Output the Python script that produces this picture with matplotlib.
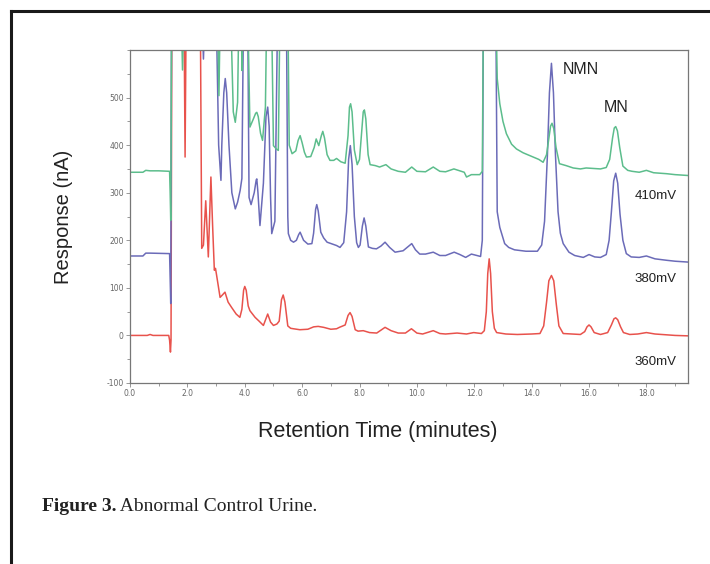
import matplotlib
matplotlib.use("Agg")
import matplotlib.pyplot as plt
from matplotlib.lines import Line2D
from matplotlib.ticker import MultipleLocator, FormatStrFormatter

# ---------------- data ----------------
OFF = 700  # off-scale response (clipped at top of plot)

t_410 = [0, 0.45, 0.55, 0.7, 1.0, 1.38, 1.40, 1.42, 1.45, 1.5, 1.78, 1.83, 1.88, 3.05, 3.1, 3.15,
         3.5, 3.6, 3.67, 3.75, 3.8, 3.88, 3.9, 3.93, 4.1, 4.18, 4.3, 4.38, 4.42, 4.47, 4.55, 4.62,
         4.72, 4.77, 4.93, 5.0, 5.1, 5.17, 5.23, 5.5, 5.55, 5.65, 5.78, 5.86, 5.93, 6.0, 6.08,
         6.15, 6.3, 6.42, 6.49, 6.58, 6.67, 6.72, 6.78, 6.87, 6.97, 7.1, 7.2, 7.35, 7.5, 7.6,
         7.65, 7.69, 7.74, 7.82, 7.92, 8.0, 8.08, 8.13, 8.17, 8.22, 8.3, 8.37, 8.55, 8.7, 8.92,
         9.1, 9.35, 9.6, 9.82, 10.0, 10.3, 10.57, 10.8, 11.0, 11.29, 11.5, 11.65, 11.73, 11.9,
         12.19, 12.28, 12.32, 12.75, 12.8, 12.89, 13.0, 13.12, 13.3, 13.47, 13.7, 14.05, 14.25,
         14.4, 14.52, 14.6, 14.66, 14.71, 14.77, 14.85, 14.97, 15.2, 15.45, 15.7, 15.9, 16.15,
         16.4, 16.6, 16.72, 16.82, 16.88, 16.93, 16.99, 17.07, 17.18, 17.35, 17.5, 17.75, 18.0,
         18.25, 18.7, 19.0, 19.5]
r_410 = [343, 343, 347, 346, 346, 345, 300, 242, OFF, OFF, OFF, 558, OFF, OFF, 504, OFF,
         OFF, 470, 448, 490, OFF, OFF, 557, OFF, OFF, 438, 455, 467, 469, 460, 425, 410,
         480, OFF, OFF, 399, 392, 389, OFF, OFF, 400, 382, 388, 410, 420, 405, 385,
         375, 376, 395, 413, 399, 420, 429, 415, 380, 368, 368, 372, 365, 362, 420,
         480, 487, 470, 390, 359, 370, 430, 470, 474, 455, 380, 359, 357, 354, 359,
         350, 345, 343, 354, 345, 344, 354, 345, 344, 350, 346, 343, 333, 338,
         338, 345, OFF, OFF, 540, 487, 450, 424, 402, 392, 384, 375, 370,
         364, 380, 415, 440, 446, 435, 395, 361, 357, 352, 350, 352, 351,
         350, 353, 370, 415, 436, 439, 430, 395, 356, 347, 345, 343, 347,
         342, 340, 338, 336]

t_380 = [0, 0.45, 0.55, 0.7, 1.38, 1.40, 1.42, 1.45, 2.5, 2.56, 2.62, 3.0, 3.09, 3.17, 3.2,
         3.27, 3.32, 3.37, 3.45, 3.55, 3.67, 3.75, 3.84, 3.9, 3.96, 4.1, 4.15, 4.22, 4.33, 4.4,
         4.42, 4.46, 4.53, 4.65, 4.74, 4.8, 4.85, 4.9, 4.94, 5.05, 5.15, 5.45, 5.5, 5.52, 5.6,
         5.7, 5.8, 5.88, 5.93, 5.98, 6.05, 6.2, 6.34, 6.4, 6.47, 6.51, 6.56, 6.65, 6.75, 6.87,
         7.1, 7.2, 7.32, 7.45, 7.55, 7.62, 7.68, 7.74, 7.82, 7.9, 7.96, 8.02, 8.1, 8.16, 8.22,
         8.31, 8.45, 8.59, 8.75, 8.89, 9.05, 9.24, 9.52, 9.82, 9.95, 10.1, 10.3, 10.57, 10.8,
         11.0, 11.3, 11.5, 11.7, 11.9, 12.1, 12.22, 12.28, 12.32, 12.75, 12.8, 12.89, 13.06,
         13.2, 13.4, 13.8, 14.2, 14.35, 14.45, 14.55, 14.62, 14.69, 14.76, 14.83, 14.92, 15.0,
         15.1, 15.3, 15.5, 15.8, 16.0, 16.2, 16.4, 16.6, 16.7, 16.78, 16.86, 16.93, 17.0,
         17.08, 17.18, 17.3, 17.47, 17.75, 18.0, 18.3, 18.7, 19.0, 19.5]
r_380 = [167, 167, 173, 173, 172, 120, 67, OFF, OFF, 581, OFF, OFF, 400, 326, 400,
         510, 540, 510, 400, 300, 266, 280, 305, 330, OFF, OFF, 290, 275, 300, 327,
         329, 300, 231, 320, 460, 480, 440, 290, 214, 240, OFF, OFF, 250, 214, 200,
         196, 200, 212, 217, 210, 200, 192, 193, 215, 265, 275, 262, 217, 205, 196,
         191, 189, 185, 195, 260, 370, 399, 360, 250, 195, 185, 190, 230, 247, 230,
         186, 183, 182, 188, 196, 185, 175, 178, 193, 180, 171, 171, 175, 168,
         168, 175, 170, 164, 171, 168, 166, 200, OFF, OFF, 260, 227, 193,
         185, 180, 177, 177, 190, 240, 380, 510, 572, 510, 380, 260, 215,
         193, 175, 168, 164, 170, 165, 164, 170, 200, 260, 325, 341, 320,
         255, 200, 172, 165, 164, 167, 161, 158, 156, 154]

t_360 = [0, 0.6, 0.7, 0.8, 1.35, 1.38, 1.41, 1.43, 1.46, 1.88, 1.92, 1.96, 2.45, 2.5, 2.56,
         2.64, 2.73, 2.82, 2.88, 2.94, 2.98, 3.02, 3.14, 3.22, 3.31, 3.42, 3.54, 3.7, 3.83,
         3.9, 3.96, 4.0, 4.05, 4.12, 4.18, 4.36, 4.5, 4.65, 4.8, 4.9, 5.0, 5.12, 5.2, 5.28,
         5.34, 5.4, 5.5, 5.6, 5.7, 5.92, 6.2, 6.4, 6.56, 6.75, 7.0, 7.2, 7.3, 7.5, 7.6, 7.67,
         7.74, 7.85, 7.95, 8.13, 8.35, 8.6, 8.89, 9.1, 9.35, 9.6, 9.81, 10.0, 10.2, 10.57,
         10.8, 11.0, 11.4, 11.73, 11.98, 12.25, 12.35, 12.42, 12.47, 12.52, 12.57, 12.63,
         12.7, 12.78, 13.1, 13.5, 14.0, 14.29, 14.42, 14.52, 14.6, 14.69, 14.77, 14.86, 14.95,
         15.1, 15.4, 15.7, 15.85, 15.93, 16.0, 16.07, 16.18, 16.4, 16.65, 16.78, 16.87, 16.93,
         17.0, 17.1, 17.2, 17.42, 17.7, 18.0, 18.3, 19.0, 19.5]
r_360 = [0, 0, 2, 0, 0, -10, -35, -10, OFF, OFF, 375, OFF, OFF, 183, 190,
         283, 165, 333, 230, 137, 141, 126, 80, 85, 91, 70, 59, 45, 38,
         55, 95, 103, 95, 62, 52, 38, 30, 21, 45, 28, 21, 24, 30, 75,
         85, 70, 20, 15, 14, 12, 13, 18, 19, 17, 13, 14, 17, 22, 42, 48,
         40, 12, 9, 10, 6, 5, 17, 10, 5, 5, 14, 5, 3, 10,
         4, 3, 5, 3, 6, 4, 10, 50, 130, 161, 130, 50,
         15, 6, 3, 2, 3, 4, 20, 70, 115, 126, 115, 65, 20,
         4, 3, 2, 8, 18, 22, 18, 6, 2, 6, 22, 35, 37,
         33, 18, 6, 2, 3, 6, 3, 0, -1]

series_labels = ["410mV", "380mV", "360mV"]
peak_labels = ["NMN", "MN"]

# ---------------- figure ----------------
fig = plt.figure(figsize=(7.10, 5.64), dpi=100)
fig.patch.set_facecolor("white")

ax = fig.add_axes([130 / 710, 1 - 383 / 564, (688 - 130) / 710, (383 - 50) / 564])

c_green = "#5cbd8c"
c_blue = "#6b6bb8"
c_red = "#e8524c"

ax.plot(t_360, r_360, color=c_red, lw=1.1, solid_joinstyle="round")
ax.plot(t_380, r_380, color=c_blue, lw=1.1, solid_joinstyle="round")
ax.plot(t_410, r_410, color=c_green, lw=1.1, solid_joinstyle="round")

ax.set_xlim(0, 19.45)
ax.set_ylim(-100, 600)

ax.xaxis.set_major_locator(MultipleLocator(2))
ax.xaxis.set_minor_locator(MultipleLocator(1))
ax.yaxis.set_major_locator(MultipleLocator(100))
ax.yaxis.set_minor_locator(MultipleLocator(50))
ax.xaxis.set_major_formatter(FormatStrFormatter("%.1f"))
ax.yaxis.set_major_formatter(FormatStrFormatter("%d"))
ax.set_yticks([-100, 0, 100, 200, 300, 400, 500])

for sp in ax.spines.values():
    sp.set_color("#777777")
    sp.set_linewidth(0.9)
ax.tick_params(which="both", direction="out", color="#888888", width=0.6,
               labelsize=5.5, labelcolor="#666666", pad=1.5)
ax.tick_params(which="major", length=3)
ax.tick_params(which="minor", length=2)

ax.set_xlabel("Retention Time (minutes)", fontsize=15.5, family="Liberation Sans",
              color="#222222")
ax.xaxis.set_label_coords((378 - 130) / 558, -0.115)
ax.set_ylabel("Response (nA)", fontsize=14.5, family="Liberation Sans",
              color="#222222")
ax.yaxis.set_label_coords((73 - 130) / 558, 0.5)

# annotations
ax.text(15.1, 560, peak_labels[0], fontsize=11.5, family="Liberation Sans",
        color="#222222", va="center", ha="left")
ax.text(16.95, 480, peak_labels[1], fontsize=11.5, family="Liberation Sans",
        color="#222222", va="center", ha="center")
for lab, yv in zip(series_labels, [294, 119, -56]):
    ax.text(17.58, yv, lab, fontsize=9.5, family="Liberation Sans",
            color="#222222", va="center", ha="left")

# caption
t1 = fig.text(42 / 710, 1 - 511 / 564, "Figure 3.", fontsize=14, family="Liberation Serif",
              fontweight="bold", color="#222222", va="baseline", ha="left")
ax.annotate(" Abnormal Control Urine.", xy=(1, 0), xycoords=t1, xytext=(0, 0),
            textcoords="offset points", fontsize=14, family="Liberation Serif",
            color="#222222", va="bottom", ha="left", annotation_clip=False)

# outer frame (top and left edges)
fig.add_artist(Line2D([11 / 710, 11 / 710], [0, 1 - 11 / 564], transform=fig.transFigure,
                      color="#1a1a1a", lw=2.2, solid_capstyle="projecting"))
fig.add_artist(Line2D([11 / 710, 1], [1 - 11 / 564, 1 - 11 / 564], transform=fig.transFigure,
                      color="#1a1a1a", lw=2.2, solid_capstyle="projecting"))

fig.savefig("out.png", dpi=100, facecolor="white")
